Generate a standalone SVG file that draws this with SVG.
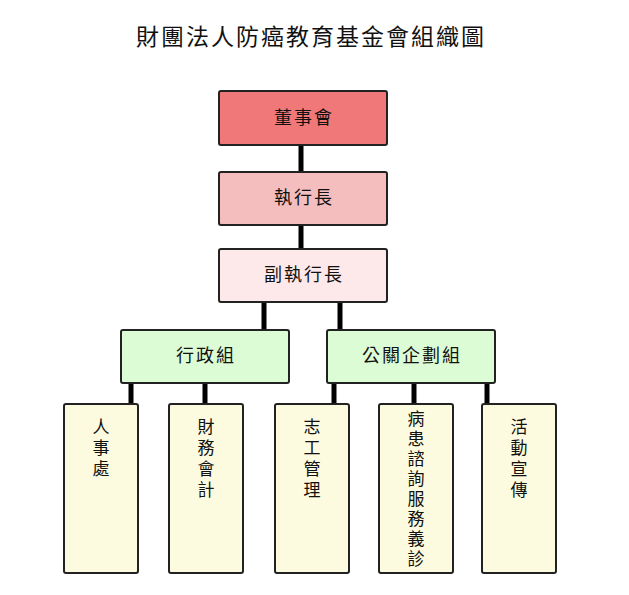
<svg xmlns="http://www.w3.org/2000/svg" width="629" height="595" viewBox="0 0 629 595">
<style>
text{font-family:"Noto Sans CJK TC","Noto Sans CJK SC",sans-serif;fill:#111;text-anchor:middle}
.box{stroke:#222;stroke-width:2}
.t{font-size:18px;letter-spacing:2px}
.v{font-size:17px}
.title{font-size:23px;letter-spacing:2px}
.c{stroke:#000;stroke-width:5;fill:none}
.red{fill:#f07878}.pink{fill:#f4bebe}.lpink{fill:#fde8ea}.green{fill:#dcfcd6}.yel{fill:#fdfbdf}
</style>
<rect width="629" height="595" fill="#fff"/>
<text class="title" x="311" y="45">財團法人防癌教育基金會組織圖</text>
<g id="connectors">
<line class="c" x1="301" y1="145" x2="301" y2="172"/>
<line class="c" x1="301" y1="225" x2="301" y2="249"/>
<line class="c" x1="264" y1="302" x2="264" y2="330"/>
<line class="c" x1="340" y1="302" x2="340" y2="330"/>
<line class="c" x1="131" y1="383" x2="131" y2="404"/>
<line class="c" x1="205" y1="383" x2="205" y2="404"/>
<line class="c" x1="334" y1="383" x2="334" y2="404"/>
<line class="c" x1="414" y1="383" x2="414" y2="404"/>
<line class="c" x1="487" y1="383" x2="487" y2="404"/>
</g>
<g id="board"><rect class="box red" x="219" y="91" width="168" height="54" rx="2"/><text class="t" x="304" y="124">董事會</text></g>
<g id="ceo"><rect class="box pink" x="219" y="172" width="168" height="53" rx="2"/><text class="t" x="304" y="204">執行長</text></g>
<g id="vice-ceo"><rect class="box lpink" x="219" y="249" width="168" height="53" rx="2"/><text class="t" x="304" y="281">副執行長</text></g>
<g id="admin"><rect class="box green" x="121" y="330" width="168" height="53" rx="2"/><text class="t" x="206" y="362">行政組</text></g>
<g id="pr"><rect class="box green" x="327" y="330" width="168" height="53" rx="2"/><text class="t" x="412" y="362">公關企劃組</text></g>
<g id="hr"><rect class="box yel" x="64" y="404" width="74" height="169" rx="2"/>
<text class="v" x="101" y="433">人</text><text class="v" x="101" y="454">事</text><text class="v" x="101" y="475">處</text></g>
<g id="finance"><rect class="box yel" x="169" y="404" width="74" height="169" rx="2"/>
<text class="v" x="206" y="433">財</text><text class="v" x="206" y="454">務</text><text class="v" x="206" y="475">會</text><text class="v" x="206" y="496">計</text></g>
<g id="volunteer"><rect class="box yel" x="275" y="404" width="74" height="169" rx="2"/>
<text class="v" x="312" y="433">志</text><text class="v" x="312" y="454">工</text><text class="v" x="312" y="475">管</text><text class="v" x="312" y="496">理</text></g>
<g id="patient"><rect class="box yel" x="379" y="404" width="74" height="169" rx="2"/>
<text class="v" x="416" y="425">病</text><text class="v" x="416" y="445">患</text><text class="v" x="416" y="465">諮</text><text class="v" x="416" y="485">詢</text><text class="v" x="416" y="505">服</text><text class="v" x="416" y="525">務</text><text class="v" x="416" y="545">義</text><text class="v" x="416" y="565">診</text></g>
<g id="promotion"><rect class="box yel" x="482" y="404" width="74" height="169" rx="2"/>
<text class="v" x="519" y="433">活</text><text class="v" x="519" y="454">動</text><text class="v" x="519" y="475">宣</text><text class="v" x="519" y="496">傳</text></g>
</svg>
